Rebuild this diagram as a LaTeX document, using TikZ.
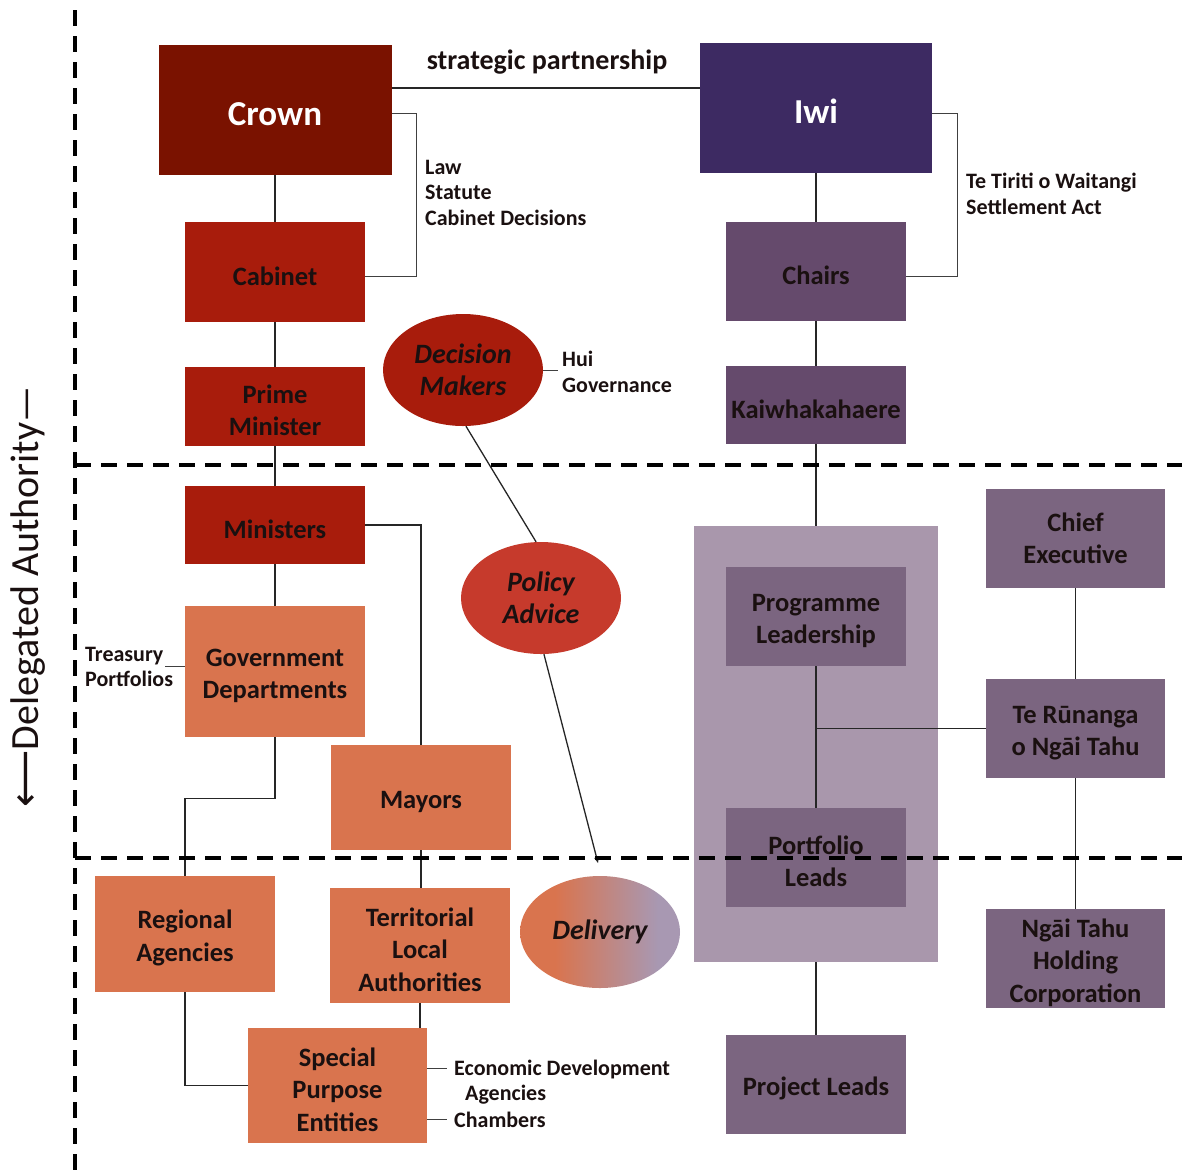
\documentclass[tikz,border=0pt]{standalone}
\usepackage{fontspec}
\setmainfont{Carlito}
\newfontfamily\dejavu{DejaVu Sans}
\usetikzlibrary{calc,shapes.geometric,arrows.meta}
\newcommand\topgap{\rule{0pt}{26.5pt}}
\definecolor{crownc}{HTML}{7A1200}
\definecolor{redc}{HTML}{A81C0C}
\definecolor{policyc}{HTML}{C63A2C}
\definecolor{orangec}{HTML}{D9744E}
\definecolor{iwic}{HTML}{3D2A62}
\definecolor{chairc}{HTML}{654A6C}
\definecolor{purc}{HTML}{7B6580}
\definecolor{contc}{HTML}{A997AC}
\definecolor{lavc}{HTML}{A898B2}
\definecolor{txtc}{HTML}{1A1010}
\pgfdeclarehorizontalshading{delshade}{100bp}{color(0bp)=(orangec); color(36bp)=(orangec); color(68bp)=(lavc); color(100bp)=(lavc)}
\tikzset{
  box/.style={rectangle, inner sep=0pt, align=center, text=txtc,
    font=\bfseries\fontsize{26.5}{32.5}\selectfont},
  bigbox/.style={rectangle, inner sep=0pt, align=center, text=white,
    font=\bfseries\fontsize{35}{40}\selectfont},
  oval/.style={ellipse, inner sep=0pt, minimum width=160pt, minimum height=112pt,
    align=center, text=txtc, font=\bfseries\itshape\fontsize{28}{32.5}\selectfont},
  side/.style={inner sep=0pt, align=left, text=txtc,
    font=\bfseries\fontsize{22}{25.5}\selectfont},
  conn/.style={line width=1.3pt, draw=black!85},
  thinconn/.style={line width=1pt, draw=black!75},
  dashline/.style={line width=3.5pt, dash pattern=on 16pt off 10pt, draw=black}
}
\begin{document}
\begin{tikzpicture}[x=1pt,y=-1pt]
\useasboundingbox (0,0) rectangle (1182,1171);
% container
\node[rectangle, fill=contc, minimum width=244pt, minimum height=436pt, inner sep=0pt] (Cont) at (816,744) {};
% crown side
\node[bigbox, fill=crownc, minimum width=233pt, minimum height=130pt] (Crown) at (275,110) {\rule{0pt}{31pt}Crown};
\node[box, fill=redc, minimum width=180pt, minimum height=100pt] (Cabinet) at (275,272) {\topgap Cabinet};
\node[box, fill=redc, minimum width=180pt, minimum height=79pt] (PM) at (275,406.5) {\topgap Prime\\Minister};
\node[box, fill=redc, minimum width=180pt, minimum height=78pt] (Min) at (275,525) {\topgap Ministers};
\node[box, fill=orangec, minimum width=180pt, minimum height=131pt] (Gov) at (275,671.5) {\topgap Government\\Departments};
\node[box, fill=orangec, minimum width=180pt, minimum height=105pt] (May) at (421,797.5) {\topgap Mayors};
\node[box, fill=orangec, minimum width=180pt, minimum height=116pt] (Reg) at (185,934) {\topgap Regional\\Agencies};
\node[box, fill=orangec, minimum width=180pt, minimum height=115pt] (TLA) at (420,945.5) {\topgap Territorial\\Local\\Authorities};
\node[box, fill=orangec, minimum width=179pt, minimum height=115pt] (SPE) at (337.5,1085.5) {\topgap Special\\Purpose\\Entities};
% iwi side
\node[bigbox, fill=iwic, minimum width=232pt, minimum height=130pt] (Iwi) at (816,108) {\rule{0pt}{31pt}Iwi};
\node[box, fill=chairc, minimum width=180pt, minimum height=99pt] (Chairs) at (816,271.5) {\topgap Chairs};
\node[box, fill=chairc, minimum width=180pt, minimum height=78pt] (Kai) at (816,405) {\topgap Kaiwhakahaere};
\node[box, fill=purc, minimum width=180pt, minimum height=99pt] (Prog) at (816,616.5) {\topgap Programme\\Leadership};
\node[box, fill=purc, minimum width=180pt, minimum height=99pt] (Port) at (816,857.5) {\topgap Portfolio\\Leads};
\node[box, fill=purc, minimum width=180pt, minimum height=99pt] (Proj) at (816,1084.5) {\topgap Project Leads};
\node[box, fill=purc, minimum width=179pt, minimum height=99pt] (CE) at (1075.5,538.5) {Chief\\Executive};
\node[box, fill=purc, minimum width=179pt, minimum height=99pt] (TR) at (1075.5,728.5) {\topgap Te Rūnanga\\o Ngāi Tahu};
\node[box, fill=purc, minimum width=179pt, minimum height=99pt] (NT) at (1075.5,958.5) {\topgap Ngāi Tahu\\Holding\\Corporation};
% ovals
\node[oval, fill=redc] (DM) at (463,370) {Decision\\Makers};
\node[oval, fill=policyc] (PA) at (541,598) {Policy\\Advice};
\node[oval, shade, shading=delshade] (Del) at (600,932) {Delivery};
% labels
\node[side, font=\bfseries\fontsize{28}{32}\selectfont] (sp) at (547,62) {strategic partnership};
\node[side, anchor=north west] (law) at (425,160) {Law\\Statute\\Cabinet Decisions};
\node[side, anchor=north west] (tt) at (966,173) {Te Tiriti o Waitangi\\Settlement Act};
\node[side, anchor=west] (hui) at (562,372) {Hui\\Governance};
\node[side, anchor=west] (tre) at (85,667) {Treasury\\Portfolios};
\node[side, anchor=west] (ed) at (454,1069) {Economic Development};
\node[side, anchor=west] (ag) at (465,1095) {Agencies};
\node[side, anchor=west] (ch) at (454,1120) {Chambers};
\node[rotate=90, inner sep=0pt, text=txtc, font=\fontsize{40}{44}\selectfont] (da) at (28,597) {{\dejavu\fontsize{40}{44}\selectfont ⟵}Delegated Authority\textemdash};
% connectors crown side
\draw[conn] (Crown.south) -- (Cabinet.north);
\draw[conn] (Cabinet.south) -- (PM.north);
\draw[conn] (PM.south) -- (Min.north);
\draw[conn] (Min.south) -- (Gov.north);
\draw[conn] ($(Crown.east)+(0,-22)$) -- ($(Iwi.west)+(0,-20)$);
\draw[thinconn] ($(Crown.east)+(0,3)$) -- ++(25,0) |- ($(Cabinet.east)+(0,4)$);
\draw[conn] (Min.east) -| (May.north);
\draw[conn] (May.south) -- (May.south |- TLA.north);
\draw[conn] (TLA.south) -- (TLA.south |- SPE.north);
\draw[conn] (Gov.south) -- ++(0,61) -| (Reg.north);
\draw[conn] (Reg.south) |- (SPE.west);
\draw[thinconn] ($(SPE.east)+(0,-17.5)$) -- ++(20,0);
\draw[thinconn] ($(SPE.east)+(0,33.5)$) -- ++(20,0);
\draw[thinconn] ($(Gov.west)+(0,-5.5)$) -- ++(-20,0);
\draw[thinconn] (DM.east) -- ++(15,0);
\draw[conn] (DM.-87) -- (PA.95);
\coordinate (pend) at (598,863);
\draw[conn, -{Stealth[length=6pt,width=5pt]}] (PA.-87) -- (pend);
% iwi side
\draw[conn] (Iwi.south) -- (Chairs.north);
\draw[conn] (Chairs.south) -- (Kai.north);
\draw[thinconn] ($(Iwi.east)+(0,5)$) -- ++(25,0) |- ($(Chairs.east)+(0,4.5)$);
\draw[conn] (Kai.south) -- (Cont.north);
\draw[conn] (Prog.south) -- (Port.north);
\draw[conn] (Prog.south |- TR.west) -- (TR.west);
\draw[conn] (Cont.south) -- (Proj.north);
\draw[conn] (CE.south) -- (TR.north);
\draw[conn] (TR.south) -- (NT.north);
% dashed boundaries
\coordinate (lt) at (75,10);
\coordinate (lb) at (75,1171);
\coordinate (h1a) at (75,465);
\coordinate (h1b) at (1182,465);
\coordinate (h2a) at (75,858);
\coordinate (h2b) at (1182,858);
\draw[dashline] (lt) -- (lb);
\draw[dashline] (h1a) -- (h1b);
\draw[dashline] (h2a) -- (h2b);
\end{tikzpicture}
\end{document}
